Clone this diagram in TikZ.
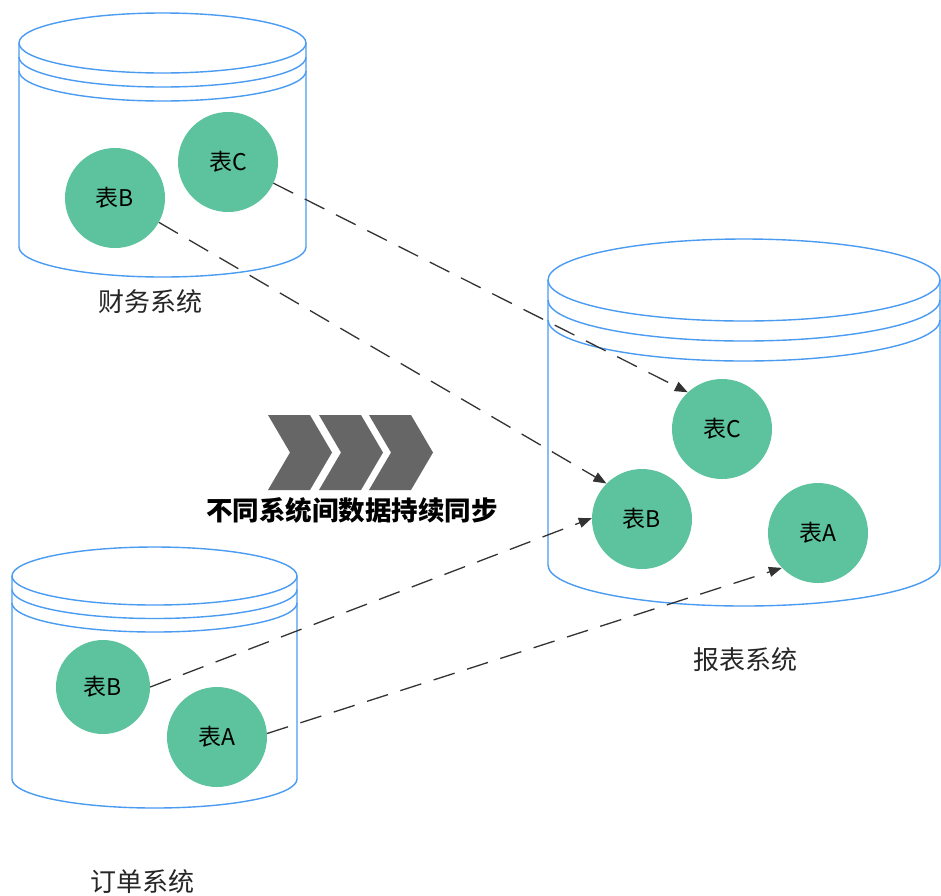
\documentclass[tikz,border=0pt]{standalone}
\usepackage{fontspec}
\setmainfont{Noto Sans CJK SC}
\usetikzlibrary{arrows.meta}
\definecolor{cylblue}{HTML}{4A9BF2}
\definecolor{tblgreen}{HTML}{5CC39E}
\definecolor{chevgray}{HTML}{666666}
\definecolor{linegray}{HTML}{333333}
\newcommand\dbcyl[6]{% cx, ytop, ybot, rx, ry, gap
  \draw[cyl] (#1,#2) ellipse [x radius=#4pt, y radius=#5pt];
  \draw[cyl] ({#1-#4},#2) -- ({#1-#4},#3) arc[start angle=180, end angle=360, x radius=#4pt, y radius=#5pt] -- ({#1+#4},#2);
  \draw[cyl] ({#1-#4},{#2+#6}) arc[start angle=180, end angle=360, x radius=#4pt, y radius=#5pt];
  \draw[cyl] ({#1-#4},{#2+2*#6}) arc[start angle=180, end angle=360, x radius=#4pt, y radius=#5pt];
}
\newcommand\chev[1]{%
  \fill[chevgray] (#1,415) -- ({#1+42},415) -- ({#1+64},452.5) -- ({#1+42},490) -- (#1,490) -- ({#1+22},452.5) -- cycle;
}
\begin{document}
\begin{tikzpicture}[x=1pt,y=-1pt,
  cyl/.style={draw=cylblue, line width=1.4pt},
  tbl/.style={circle, fill=tblgreen, minimum size=100pt, inner sep=0pt, font=\fontsize{23}{26}\selectfont, text=black},
  syslabel/.style={font=\fontsize{26}{29}\selectfont, text=black!85},
  sync/.style={draw=linegray, line width=1.3pt, dash pattern=on 22pt off 13pt, -{Triangle[length=13pt,width=10pt]}}]
\useasboundingbox (0,0) rectangle (941,895);
\fill[white] (0,0) rectangle (941,895);

% cylinders
\dbcyl{162.5}{43}{247}{143.5}{30}{14}
\dbcyl{744}{280}{565}{196}{41}{20}
\dbcyl{154.5}{576}{779}{142.5}{29}{13.5}

% chevrons
\chev{268}
\chev{319}
\chev{369}
\node[font=\bfseries\fontsize{26.5}{30}\selectfont, text=black] (synctext) at (352,510) {不同系统间数据持续同步};

% labels
\node[syslabel] (fin) at (150,302) {财务系统};
\node[syslabel] (rep) at (745,660) {报表系统};
\node[syslabel] (ord) at (142,882) {订单系统};

% tables
\node[tbl] (finB) at (115,198) {表B};
\node[tbl] (finC) at (228,162) {表C};
\node[tbl] (repC) at (722,429) {表C};
\node[tbl] (repB) at (642,519) {表B};
\node[tbl] (repA) at (818,533) {表A};
\node[tbl, minimum size=94pt] (ordB) at (103,687) {表B};
\node[tbl] (ordA) at (217,737) {表A};

% sync arrows
\draw[sync] (finC.-25) -- (repC.133);
\draw[sync] (finB.-29) -- (repB.135);
\draw[sync] (ordB.0) -- (repB.179);
\draw[sync] (ordA.4) -- (repA.224);
\end{tikzpicture}
\end{document}
